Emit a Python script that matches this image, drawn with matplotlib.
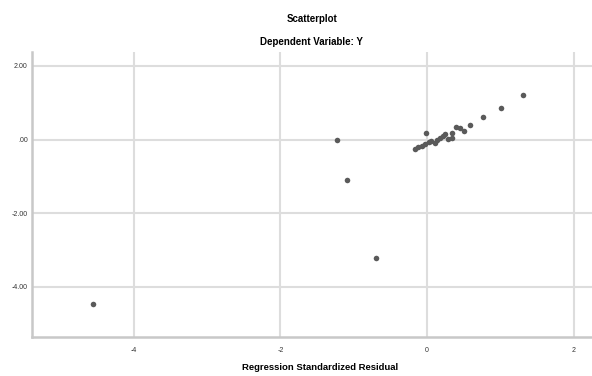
import numpy as np
import matplotlib.pyplot as plt

plt.rcParams['font.family'] = ['Liberation Sans', 'DejaVu Sans']

# residuos padronizados (x) e valores previstos padronizados (y)
resid = [-4.56, -1.23, -1.09, -0.70, -0.16, -0.12, -0.07, -0.03, 0.02, 0.06,
         0.11, 0.13, 0.18, 0.22, 0.25, 0.29, 0.34, 0.34, 0.40, 0.45,
         0.50, 0.58, 0.76, 1.01, 1.31, -0.01]
pred = [-4.46, 0.00, -1.09, -3.22, -0.25, -0.21, -0.16, -0.11, -0.07, -0.05,
        -0.09, 0.00, 0.05, 0.09, 0.16, 0.02, 0.18, 0.05, 0.35, 0.32,
        0.23, 0.41, 0.62, 0.86, 1.20, 0.18]

xticks = [-4, -2, 0, 2]
yticks = [2, 0, -2, -4]
ytick_labels = ['2.00', '.00', '-2.00', '-4.00']

fig = plt.figure(figsize=(5.92, 3.76), dpi=100)
ax = fig.add_axes([32/592, 1-337/376, 1-32/592, (337-52)/376])

ax.scatter(resid, pred, s=16, color='#5a5a5a', zorder=3, linewidths=0)

ax.set_xlim(-5.39, 2.25)
ax.set_ylim(-5.36, 2.38)
ax.set_xticks(xticks)
ax.set_xticklabels([str(t) for t in xticks])
ax.set_yticks(yticks)
ax.set_yticklabels(ytick_labels)
ax.tick_params(length=0, labelsize=5, colors='#333333')
ax.tick_params(axis='x', pad=7)
ax.tick_params(axis='y', pad=3)

ax.grid(True, color='#dddddd', linewidth=1.5)
ax.set_axisbelow(True)
for s in ['top', 'right']:
    ax.spines[s].set_visible(False)
for s in ['left', 'bottom']:
    ax.spines[s].set_color('#c8c8c8')
    ax.spines[s].set_linewidth(1.8)

# titulos e rotulo do eixo x
fig.text(0.5 + 16/592, 1-19/376, 'Scatterplot', ha='center', va='center',
         fontsize=7, fontweight='bold')
fig.text(0.5 + 16/592, 1-42/376, 'Dependent Variable: Y', ha='center', va='center',
         fontsize=7, fontweight='bold')
fig.text(320/592, 1-367/376, 'Regression Standardized Residual', ha='center',
         va='center', fontsize=6.8, fontweight='bold')

fig.savefig('out.png', dpi=100)
